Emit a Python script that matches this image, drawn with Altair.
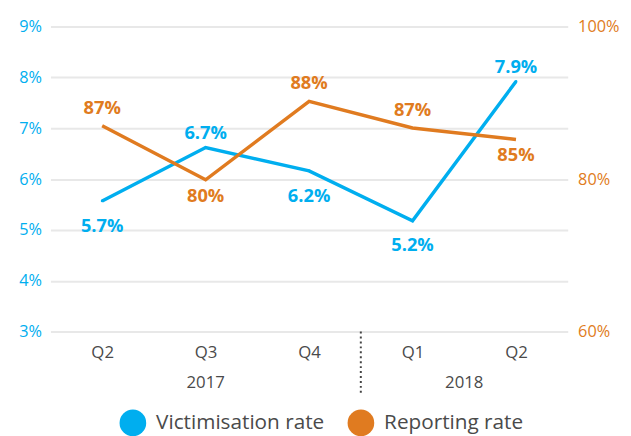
import json
import altair as alt
import pandas as pd

# ---- data ----
quarters = ["Q2", "Q3", "Q4", "Q1", "Q2"]
years = ["2017", "2017", "2017", "2018", "2018"]
victimisation = [5.57, 6.62, 6.16, 5.18, 7.92]
victimisation_labels = ["5.7%", "6.7%", "6.2%", "5.2%", "7.9%"]
reporting = [87.0, 79.9, 90.2, 86.7, 85.2]
reporting_labels = ["87%", "80%", "88%", "87%", "85%"]
victimisation_side = ["below", "above", "below", "below", "above"]
reporting_side = ["above", "below", "above", "above", "below"]
series_names = ["Victimisation rate", "Reporting rate"]

BLUE = "#00aeef"
ORANGE = "#e07b20"
TEXT = "#4a4a4a"
FONT = "Open Sans"

idx = list(range(len(quarters)))
vic = pd.DataFrame({"i": idx, "value": victimisation, "label": victimisation_labels,
                    "side": victimisation_side, "series": series_names[0]})
rep = pd.DataFrame({"i": idx, "value": reporting, "label": reporting_labels,
                    "side": reporting_side, "series": series_names[1]})

year_df = (pd.DataFrame({"i": idx, "year": years}).groupby("year", as_index=False)["i"].mean())
last_2017 = max(i for i, y in zip(idx, years) if y == years[0])
sep_df = pd.DataFrame({"i": [last_2017 + 0.5]})

x_enc = alt.X(
    "i:Q",
    scale=alt.Scale(domain=[-0.5, len(idx) - 0.5], nice=False, zero=False),
    axis=alt.Axis(values=idx, labelExpr=json.dumps(quarters) + "[datum.value]",
                  grid=False, domain=False, ticks=False, labelFontSize=17,
                  labelColor=TEXT, labelPadding=13, title=None, labelFont=FONT),
)

color_scale = alt.Scale(domain=series_names, range=[BLUE, ORANGE])

y_left = alt.Y("value:Q", scale=alt.Scale(domain=[3, 9], nice=False, zero=False),
               axis=alt.Axis(values=[3, 4, 5, 6, 7, 8, 9], labelExpr="datum.value + '%'",
                             grid=True, gridColor="#e8e8e8", gridWidth=2, domain=False,
                             ticks=False, labelColor=BLUE, labelFontSize=16.5, labelPadding=9,
                             title=None, labelFont=FONT))
y_right = alt.Y("value:Q", scale=alt.Scale(domain=[60, 100], nice=False, zero=False),
                axis=alt.Axis(orient="right", values=[60, 80, 100], labelExpr="datum.value + '%'",
                              grid=False, domain=False, ticks=False, labelColor=ORANGE,
                              labelFontSize=16.5, labelPadding=10, title=None, labelFont=FONT))

vbase = alt.Chart(vic)
blue_points = vbase.mark_point(filled=True, size=8, opacity=1).encode(
    x=x_enc, y=y_left,
    color=alt.Color("series:N", scale=color_scale,
                    legend=alt.Legend(orient="none", legendX=70, legendY=388, direction="horizontal",
                                      symbolType="circle", symbolSize=729, symbolStrokeWidth=0,
                                      labelFontSize=21, labelFont=FONT, labelColor=TEXT,
                                      labelOffset=10, columnPadding=23, title=None, padding=0,
                                      labelLimit=400)),
)
blue_line = vbase.mark_line(strokeWidth=3.5, color=BLUE).encode(x=x_enc, y=y_left)
txt = dict(fontSize=18.5, fontWeight="bold", font=FONT)
blue_above = vbase.transform_filter("datum.side == 'above'").mark_text(dy=-15, color=BLUE, **txt).encode(
    x=x_enc, y=y_left, text="label:N")
blue_below = vbase.transform_filter("datum.side == 'below'").mark_text(dy=25, color=BLUE, **txt).encode(
    x=x_enc, y=y_left, text="label:N")
blue_layer = alt.layer(blue_points, blue_line, blue_above, blue_below)

rbase = alt.Chart(rep)
orange_line = rbase.mark_line(strokeWidth=3.5, color=ORANGE).encode(x=x_enc, y=y_right)
orange_above = rbase.transform_filter("datum.side == 'above'").mark_text(dy=-18, color=ORANGE, **txt).encode(
    x=x_enc, y=y_right, text="label:N")
orange_below = rbase.transform_filter("datum.side == 'below'").mark_text(dy=16, color=ORANGE, **txt).encode(
    x=x_enc, y=y_right, text="label:N")
orange_layer = alt.layer(orange_line, orange_above, orange_below)

year_text = alt.Chart(year_df).mark_text(fontSize=17, color=TEXT, font=FONT).encode(
    x=x_enc, y=alt.value(361), text="year:N")
sep_rule = alt.Chart(sep_df).mark_rule(strokeDash=[2, 3], strokeWidth=2, color="#444444").encode(
    x=x_enc, y=alt.value(309), y2=alt.value(374))

chart = (
    alt.layer(blue_layer, orange_layer, year_text, sep_rule)
    .resolve_scale(y="independent")
    .properties(width=524, height=309, autosize=alt.AutoSizeParams(type="none"),
                padding={"left": 43, "top": 16, "right": 56, "bottom": 105})
    .configure_view(stroke=None)
)

chart.save("out.html", embed_options={"renderer": "svg", "actions": False})
